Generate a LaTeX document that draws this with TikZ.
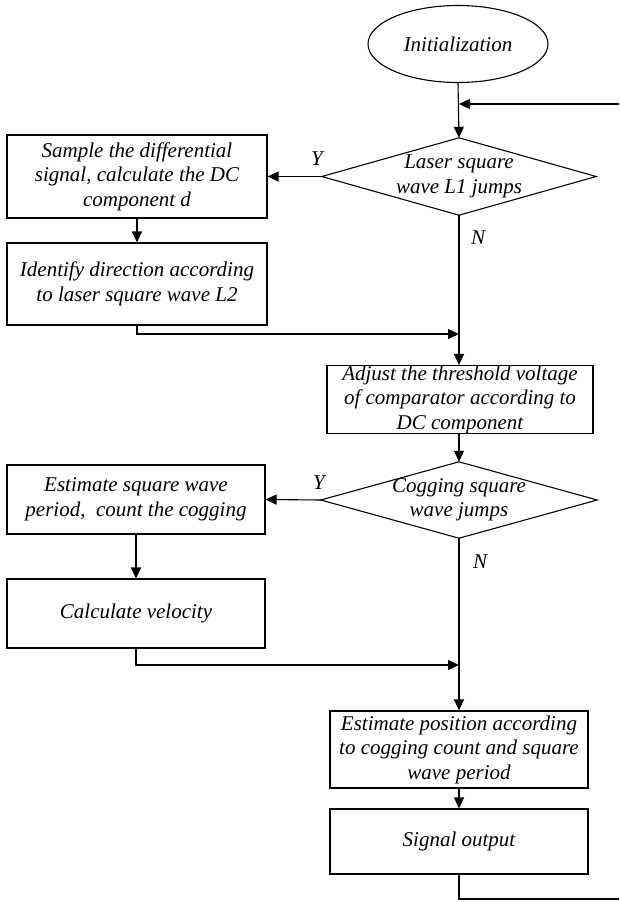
\documentclass[tikz,border=0pt]{standalone}
\usepackage{fontspec}
\setmainfont{Liberation Serif}
\usetikzlibrary{arrows.meta,shapes.geometric}
\begin{document}
\begin{tikzpicture}[x=1pt,y=-1pt,
  every node/.style={font=\fontsize{21}{24.5}\selectfont\itshape},
  procbox/.style={draw,line width=1.1pt,rectangle,inner sep=0pt,align=center},
  decbox/.style={rectangle,inner sep=0pt,align=center},
  lbl/.style={inner sep=0pt},
  conn/.style={line width=1.1pt},
  arr/.style={conn,-{Triangle[length=11pt,width=10pt]}}]
\useasboundingbox (0,0) rectangle (619,902);
% nodes
\node[draw,line width=1.1pt,ellipse,minimum width=180pt,minimum height=77pt,inner sep=0pt] (init) at (458,44) {Initialization};
\node[decbox,minimum width=274pt,minimum height=77pt] (d1) at (459,176.5) {Laser square\\wave L1 jumps};
\draw[conn] (d1.north) -- (d1.east) -- (d1.south) -- (d1.west) -- cycle;
\node[procbox,minimum width=260pt,minimum height=83pt] (b1) at (137,176.5) {Sample the differential\\signal, calculate the DC\\component d};
\node[procbox,minimum width=260pt,minimum height=82pt] (b2) at (137,284) {Identify direction according\\to laser square wave L2};
\node[procbox,minimum width=266pt,minimum height=67pt] (b3) at (460,399.5) {Adjust the threshold voltage\\of comparator according to\\DC component};
\node[decbox,minimum width=276pt,minimum height=76pt] (d2) at (459,500) {Cogging square\\wave jumps};
\draw[conn] (d2.north) -- (d2.east) -- (d2.south) -- (d2.west) -- cycle;
\node[procbox,minimum width=258pt,minimum height=69pt] (b4) at (136,499.5) {Estimate square wave\\period,\ \ count the cogging};
\node[procbox,minimum width=258pt,minimum height=69pt] (b5) at (136,613.5) {Calculate velocity};
\node[procbox,minimum width=258pt,minimum height=77pt] (b6) at (459,749.5) {Estimate position according\\to cogging count and square\\wave period};
\node[procbox,minimum width=258pt,minimum height=65pt] (b7) at (459,841.5) {Signal output};
% labels
\node[lbl] (y1) at (317,159) {Y};
\node[lbl] (n1) at (478,238) {N};
\node[lbl] (y2) at (319,483) {Y};
\node[lbl] (n2) at (480,562) {N};
% coordinates
\coordinate (fbR) at (619,104);
\coordinate (fbJ) at (459,104);
\coordinate (j1) at (459,334);
\coordinate (j2) at (459,665);
\coordinate (outR) at (619,899);
% connectors
\draw[arr] (init.south) -- (d1.north);
\draw[arr] (fbR) -- (fbJ);
\draw[arr] (d1.west) -- (b1.east);
\draw[arr] (b1.south) -- (b2.north);
\draw[arr] (d1.south) -- (b3.north -| d1.south);
\draw[arr] (b2.south) |- (j1);
\draw[arr] (b3.south -| d2.north) -- (d2.north);
\draw[arr] (d2.west) -- (b4.east);
\draw[arr] (b4.south) -- (b5.north);
\draw[arr] (d2.south) -- (b6.north);
\draw[arr] (b5.south) |- (j2);
\draw[arr] (b6.south) -- (b7.north);
\draw[conn] (b7.south) |- (outR);
\end{tikzpicture}
\end{document}
